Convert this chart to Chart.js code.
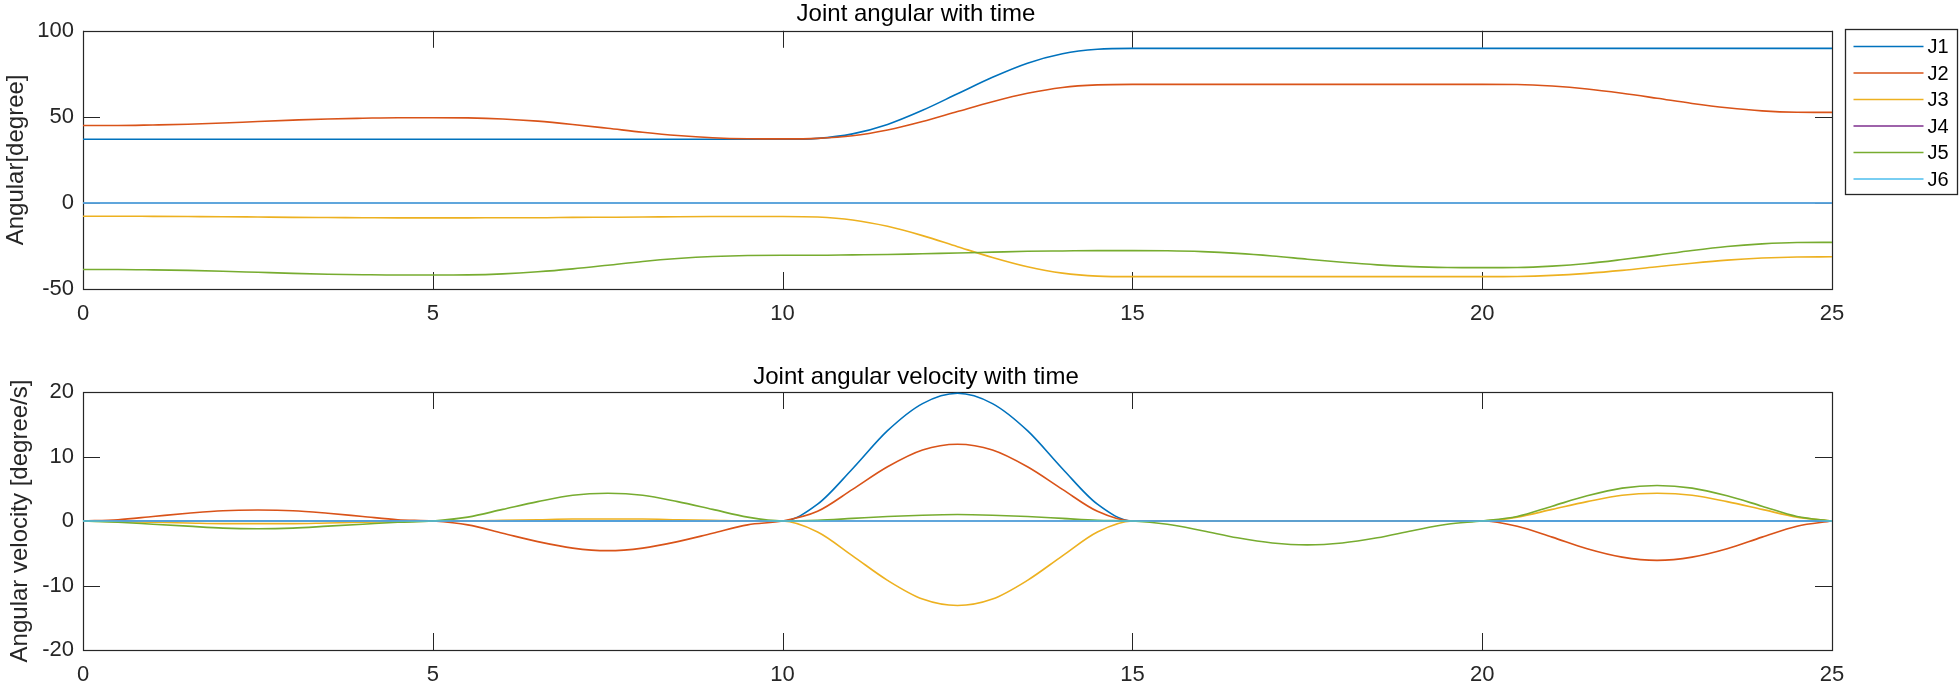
<!DOCTYPE html>
<html><head><meta charset="utf-8">
<script src="https://cdn.jsdelivr.net/npm/chart.js@4.4.0/dist/chart.umd.min.js"></script>
<style>
html,body{margin:0;padding:0;background:#fff;}
#wrap{position:relative;width:1960px;height:693px;overflow:hidden;background:#fff;}
canvas{position:absolute;left:0;}
#c1{top:0px;}
#c2{top:346px;}
</style></head><body>
<div id="wrap"><canvas id="c1" width="1960" height="346"></canvas><canvas id="c2" width="1960" height="347"></canvas></div>
<script>
// ---------- data ----------
const seriesNames = ['J1','J2','J3','J4','J5','J6'];
const time = [0,0.5,1,1.5,2,2.5,3,3.5,4,4.5,5,5.5,6,6.5,7,7.5,8,8.5,9,9.5,10,10.5,11,11.5,12,12.5,13,13.5,14,14.5,15,15.5,16,16.5,17,17.5,18,18.5,19,19.5,20,20.5,21,21.5,22,22.5,23,23.5,24,24.5,25];
const xTicks = [0,5,10,15,20,25];
const yTicksAngle = [-50,0,50,100];
const yTicksVel = [-20,-10,0,10,20];

// Joint angles [degree]
const angJ1 = [37,37,37,37,37,37,37,37,37,37,37,37,37,37,37,37,37,37,37,37,37,
  37.5,40.1,45.6,53.8,63.4,73.0,81.2,86.7,89.3,89.8,
  89.8,89.8,89.8,89.8,89.8,89.8,89.8,89.8,89.8,89.8,89.8,89.8,89.8,89.8,89.8,89.8,89.8,89.8,89.8,89.8];
const angJ2 = [45.0,45.0,45.3,45.7,46.4,47.3,48.1,48.8,49.2,49.5,49.5,
  49.4,48.8,47.5,45.6,43.4,41.1,39.2,37.9,37.3,37.2,
  37.5,39.0,42.4,47.3,53.1,58.8,63.7,67.1,68.6,68.9,
  68.9,68.9,68.9,68.9,68.9,68.9,68.9,68.9,68.9,68.9,
  68.8,67.9,66.2,63.7,60.8,57.8,55.3,53.5,52.7,52.6];
const angJ3 = [-7.7,-7.7,-7.8,-7.9,-8.0,-8.2,-8.4,-8.5,-8.6,-8.7,-8.7,
  -8.7,-8.6,-8.6,-8.4,-8.3,-8.2,-8.0,-7.9,-7.9,-7.9,
  -8.2,-9.9,-13.6,-19.0,-25.4,-31.7,-37.1,-40.8,-42.5,-42.8,
  -42.8,-42.8,-42.8,-42.8,-42.8,-42.8,-42.8,-42.8,-42.8,-42.8,
  -42.7,-42.1,-40.9,-39.2,-37.1,-35.0,-33.2,-32.0,-31.4,-31.3];
const angJ4 = [0,0,0,0,0,0,0,0,0,0,0,0,0,0,0,0,0,0,0,0,0,0,0,0,0,0,0,0,0,0,0,0,0,0,0,0,0,0,0,0,0,0,0,0,0,0,0,0,0,0,0];
const angJ5 = [-38.7,-38.7,-38.9,-39.2,-39.7,-40.3,-40.9,-41.4,-41.7,-41.9,-41.9,
  -41.8,-41.2,-40.0,-38.3,-36.2,-34.0,-32.3,-31.1,-30.5,-30.4,
  -30.4,-30.2,-30.0,-29.5,-29.1,-28.6,-28.1,-27.9,-27.7,-27.7,
  -27.8,-28.3,-29.3,-30.8,-32.7,-34.5,-36.0,-37.0,-37.5,-37.6,
  -37.5,-36.7,-35.2,-32.9,-30.3,-27.6,-25.3,-23.8,-23.0,-22.9];
const angJ6 = [0,0,0,0,0,0,0,0,0,0,0,0,0,0,0,0,0,0,0,0,0,0,0,0,0,0,0,0,0,0,0,0,0,0,0,0,0,0,0,0,0,0,0,0,0,0,0,0,0,0,0];

// Joint angular velocities [degree/s]
const velJ1 = [0,0,0,0,0,0,0,0,0,0,0,0,0,0,0,0,0,0,0,0,0,
  2.6,8.1,14.0,18.2,19.8,18.2,14.0,8.1,2.6,0,
  0,0,0,0,0,0,0,0,0,0,0,0,0,0,0,0,0,0,0,0];
const velJ2 = [0,0.2,0.7,1.2,1.6,1.7,1.6,1.2,0.7,0.2,0,
  -0.6,-1.9,-3.2,-4.2,-4.6,-4.2,-3.2,-1.9,-0.6,0,
  1.5,4.9,8.4,11.0,11.9,11.0,8.4,4.9,1.5,0,
  0,0,0,0,0,0,0,0,0,0,
  -0.8,-2.5,-4.3,-5.6,-6.1,-5.6,-4.3,-2.5,-0.8,0];
const velJ3 = [0,-0.1,-0.2,-0.3,-0.4,-0.4,-0.4,-0.3,-0.2,-0.1,0,
  0,0.1,0.2,0.3,0.3,0.3,0.2,0.1,0,0,
  -1.7,-5.4,-9.2,-12.1,-13.1,-12.1,-9.2,-5.4,-1.7,0,
  0,0,0,0,0,0,0,0,0,0,
  0.6,1.8,3.0,4.0,4.3,4.0,3.0,1.8,0.6,0];
const velJ4 = [0,0,0,0,0,0,0,0,0,0,0,0,0,0,0,0,0,0,0,0,0,0,0,0,0,0,0,0,0,0,0,0,0,0,0,0,0,0,0,0,0,0,0,0,0,0,0,0,0,0,0];
const velJ5 = [0,-0.2,-0.5,-0.8,-1.1,-1.2,-1.1,-0.8,-0.5,-0.2,0,
  0.6,1.8,3.0,4.0,4.3,4.0,3.0,1.8,0.6,0,
  0.1,0.4,0.7,0.9,1.0,0.9,0.7,0.4,0.1,0,
  -0.5,-1.5,-2.6,-3.4,-3.7,-3.4,-2.6,-1.5,-0.5,0,
  0.7,2.3,3.9,5.1,5.5,5.1,3.9,2.3,0.7,0];
const velJ6 = [0,0,0,0,0,0,0,0,0,0,0,0,0,0,0,0,0,0,0,0,0,0,0,0,0,0,0,0,0,0,0,0,0,0,0,0,0,0,0,0,0,0,0,0,0,0,0,0,0,0,0];

// ---------- style ----------
const FONT = "'Liberation Sans', Arial, Helvetica, sans-serif";
const lineColors = ['#0072BD','#D95319','#EDB120','#7E2F8E','#77AC30','#4DBEEE'];
const AXIS_COLOR = '#262626';
const TICK_LEN = 17;

const matlabAxes = {
  id: 'matlabAxes',
  beforeDatasetsDraw(chart) {
    const {ctx, chartArea: a, scales: {x, y}} = chart;
    ctx.save();
    ctx.strokeStyle = AXIS_COLOR;
    ctx.lineWidth = 1;
    ctx.beginPath();
    x.ticks.forEach(t => {
      const px = Math.round(x.getPixelForValue(t.value)) + 0.5;
      ctx.moveTo(px, a.bottom); ctx.lineTo(px, a.bottom - TICK_LEN);
      ctx.moveTo(px, a.top); ctx.lineTo(px, a.top + TICK_LEN);
    });
    y.ticks.forEach(t => {
      const py = Math.round(y.getPixelForValue(t.value)) + 0.5;
      ctx.moveTo(a.left, py); ctx.lineTo(a.left + TICK_LEN, py);
      ctx.moveTo(a.right, py); ctx.lineTo(a.right - TICK_LEN, py);
    });
    ctx.stroke();
    ctx.lineWidth = 1.2;
    ctx.strokeRect(Math.round(a.left) + 0.5, Math.round(a.top) + 0.5,
                   Math.round(a.right - a.left), Math.round(a.bottom - a.top));
    ctx.restore();
  }
};

const boxLegend = {
  id: 'boxLegend',
  afterDraw(chart, args, opts) {
    if (!opts || !opts.show) return;
    const {ctx, chartArea: a} = chart;
    const bx = Math.round(a.right) + 13.5, by = Math.round(a.top) - 1.5;
    const bw = 112, bh = 165;
    ctx.save();
    ctx.fillStyle = '#fff';
    ctx.fillRect(bx, by, bw, bh);
    ctx.strokeStyle = AXIS_COLOR;
    ctx.lineWidth = 1.3;
    ctx.strokeRect(bx, by, bw, bh);
    ctx.font = '20px ' + FONT;
    ctx.textBaseline = 'middle';
    ctx.textAlign = 'left';
    chart.data.datasets.forEach((d, i) => {
      const yy = by + 17 + i * 26.5;
      ctx.strokeStyle = d.borderColor;
      ctx.lineWidth = 1.5;
      ctx.beginPath();
      ctx.moveTo(bx + 8, yy); ctx.lineTo(bx + 78, yy);
      ctx.stroke();
      ctx.fillStyle = '#000';
      ctx.fillText(d.label, bx + 82, yy + 1);
    });
    ctx.restore();
  }
};

function buildDatasets(valuesList) {
  return seriesNames.map((name, i) => ({
    label: name,
    data: time.map((t, k) => ({x: t, y: valuesList[i][k]})),
    borderColor: lineColors[i],
    backgroundColor: lineColors[i],
    borderWidth: 1.6,
    pointRadius: 0,
    cubicInterpolationMode: 'monotone',
    fill: false,
    order: seriesNames.length - 1 - i
  }));
}

function makeChart(canvasId, valuesList, cfg) {
  return new Chart(document.getElementById(canvasId), {
    type: 'line',
    data: {datasets: buildDatasets(valuesList)},
    plugins: [matlabAxes, boxLegend],
    options: {
      responsive: false,
      animation: false,
      devicePixelRatio: 1,
      layout: {padding: {left: 0, right: 128, top: 0, bottom: 0}},
      plugins: {
        legend: {display: false},
        tooltip: {enabled: false},
        boxLegend: {show: cfg.legend},
        title: {
          display: true, text: cfg.title, color: '#000',
          font: {family: FONT, size: 24, weight: 'normal'},
          padding: cfg.titlePad
        }
      },
      scales: {
        x: {
          type: 'linear', min: 0, max: 25,
          grid: {display: false, drawTicks: false},
          border: {display: false},
          afterBuildTicks: s => { s.ticks = xTicks.map(v => ({value: v})); },
          afterFit: s => { s.height = cfg.xHeight; },
          ticks: {color: AXIS_COLOR, font: {family: FONT, size: 22}, padding: 12,
                  maxRotation: 0, autoSkip: false}
        },
        y: {
          type: 'linear', min: cfg.yMin, max: cfg.yMax,
          grid: {display: false, drawTicks: false},
          border: {display: false},
          afterBuildTicks: s => { s.ticks = cfg.yTicks.map(v => ({value: v})); },
          afterFit: s => { s.width = 83; },
          ticks: {color: AXIS_COLOR, font: {family: FONT, size: 22}, padding: 9},
          title: {display: true, text: cfg.yLabel, color: AXIS_COLOR,
                  font: {family: FONT, size: 24}, padding: {top: cfg.yTitlePad, bottom: 0}}
        }
      }
    }
  });
}

makeChart('c1', [angJ1, angJ2, angJ3, angJ4, angJ5, angJ6], {
  title: 'Joint angular with time', yLabel: 'Angular[degree]',
  yMin: -50, yMax: 100, yTicks: yTicksAngle, yTitlePad: 1.5,
  titlePad: {top: 0, bottom: 2}, xHeight: 57, legend: true
});
makeChart('c2', [velJ1, velJ2, velJ3, velJ4, velJ5, velJ6], {
  title: 'Joint angular velocity with time', yLabel: 'Angular velocity [degree/s]',
  yMin: -20, yMax: 20, yTicks: yTicksVel, yTitlePad: 6,
  titlePad: {top: 16.6, bottom: 0.6}, xHeight: 43, legend: false
});
</script>
</body></html>
